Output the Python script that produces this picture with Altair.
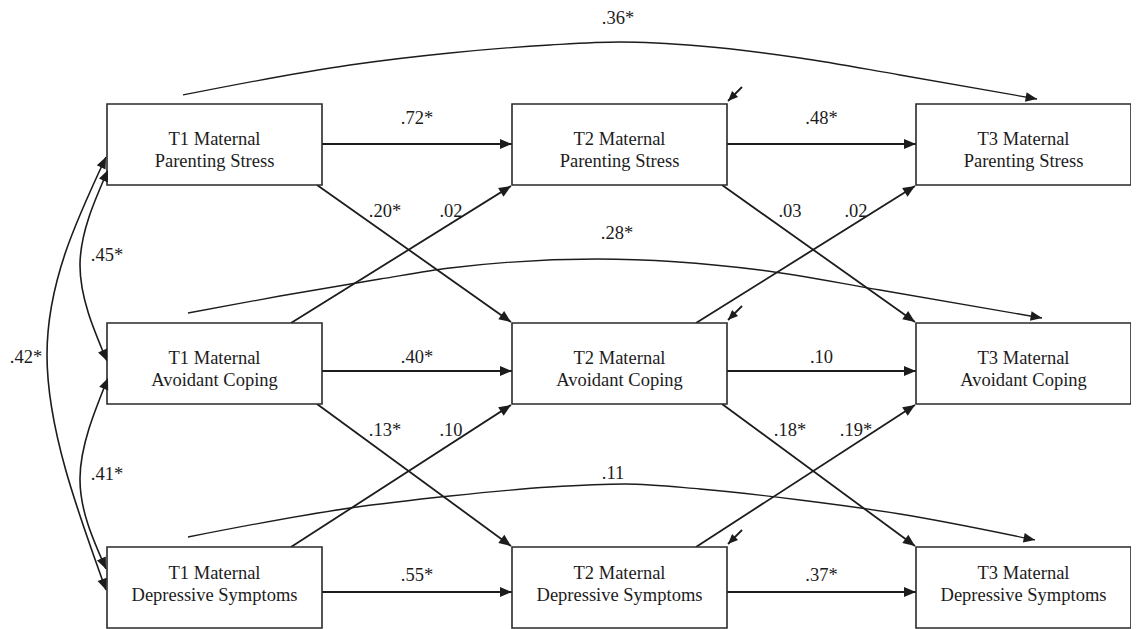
import math
import altair as alt
import pandas as pd

# ---------------- content ----------------
waves = ["T1", "T2", "T3"]
construct_line1 = ["Maternal", "Maternal", "Maternal"]
construct_line2 = ["Parenting Stress", "Avoidant Coping", "Depressive Symptoms"]

# stability paths: (wave, row, coefficient)  wave -> wave+1, same construct
stab_wave = [0, 1, 0, 1, 0, 1]
stab_row = [0, 0, 1, 1, 2, 2]
stab_coef = [".72*", ".48*", ".40*", ".10", ".55*", ".37*"]

# cross-lagged paths going down one row: (wave, from_row)
down_wave = [0, 1, 0, 1]
down_row = [0, 0, 1, 1]
down_coef = [".20*", ".03", ".13*", ".18*"]

# cross-lagged paths going up one row: (wave, from_row)
up_wave = [0, 1, 0, 1]
up_row = [1, 1, 2, 2]
up_coef = [".02", ".02", ".10", ".19*"]

# T1 -> T3 paths per construct
skip_row = [0, 1, 2]
skip_coef = [".36*", ".28*", ".11"]

# T1 covariances
cov_a = [0, 0, 1]
cov_b = [1, 2, 2]
cov_coef = [".45*", ".42*", ".41*"]

# ---------------- layout (page pixels) ----------------
W, H = 1123, 621
COL_LEFT = [107, 512, 916]
BOX_W = 215
ROW_TOP = [104, 323, 547]
BOX_H = 81
TEXT_Y1 = [138.5, 357.5, 573]
LINE_GAP = 22
ARROW_Y = [144, 371, 592]
STAB_LABEL_Y = [118, 357, 575]

# skip-arc traces
skip_x = [
    [183, 350, 450, 550, 620, 700, 800, 900, 1037],
    [188, 280, 380, 450, 597, 760, 880, 1042],
    [188, 350, 450, 550, 625, 700, 800, 900, 1035],
]
skip_y = [
    [95, 65, 53, 45, 42, 46, 58, 75, 99],
    [313, 296, 279, 268, 259, 270, 290, 318],
    [537, 508, 496, 487, 484, 489, 500, 514, 540],
]
skip_label_xy = [(618, 18), (617, 233), (613, 473)]

# covariance arcs: start, bulge, end
cov_pts = [
    [(108, 170), (80, 265), (107, 361)],
    [(106, 157), (47, 355), (106, 590)],
    [(108, 378), (80, 478), (106, 569)],
]
cov_label_xy = [(107, 255), (26, 357), (107, 474)]

FONT = "Liberation Serif"
FS = 18.5
INK = "#1c1c1c"
ARROW = "M0,0L-0.85,2L0.85,2Z"


def ang(dx, dy):
    return (math.degrees(math.atan2(dx, -dy)) + 360) % 360


boxes, texts, rules, heads, labels, arcs, covs = [], [], [], [], [], [], []

for c in range(3):
    for r in range(3):
        x0, y0 = COL_LEFT[c], ROW_TOP[r]
        boxes.append(dict(x=x0, x2=x0 + BOX_W, y=y0, y2=y0 + BOX_H))
        cx = x0 + BOX_W / 2
        texts.append(dict(x=cx, y=TEXT_Y1[r], t=f"{waves[c]} {construct_line1[r]}"))
        texts.append(dict(x=cx, y=TEXT_Y1[r] + LINE_GAP, t=construct_line2[r]))
        if c > 0:  # residual arrows
            xr = x0 + BOX_W
            sx, sy, ex, ey = xr + 15, y0 - 17, xr + 1, y0 - 3
            rules.append(dict(x=sx, y=sy, x2=ex, y2=ey))
            heads.append(dict(x=ex, y=ey, a=ang(ex - sx, ey - sy), s=100))


def arrow(sx, sy, ex, ey, size=144):
    rules.append(dict(x=sx, y=sy, x2=ex, y2=ey))
    heads.append(dict(x=ex, y=ey, a=ang(ex - sx, ey - sy), s=size))


for w, r, coef in zip(stab_wave, stab_row, stab_coef):
    sx = COL_LEFT[w] + BOX_W
    ex = COL_LEFT[w + 1]
    arrow(sx, ARROW_Y[r], ex, ARROW_Y[r])
    labels.append(dict(x=(sx + ex) / 2, y=STAB_LABEL_Y[r], t=coef))

for w, r, coef in zip(down_wave, down_row, down_coef):
    right = COL_LEFT[w] + BOX_W
    arrow(right - 5, ROW_TOP[r] + BOX_H, COL_LEFT[w + 1] - 1, ROW_TOP[r + 1] - 1)
    labels.append(dict(x=right + 63, y=ROW_TOP[r] + BOX_H + 26, t=coef))

for w, r, coef in zip(up_wave, up_row, up_coef):
    right = COL_LEFT[w] + BOX_W
    arrow(COL_LEFT[w] + 184, ROW_TOP[r], COL_LEFT[w + 1] - 1, ROW_TOP[r - 1] + BOX_H + 1)
    labels.append(dict(x=right + 129, y=ROW_TOP[r - 1] + BOX_H + 26, t=coef))

for k, (r, coef) in enumerate(zip(skip_row, skip_coef)):
    xs, ys = skip_x[k], skip_y[k]
    for i, (x, y) in enumerate(zip(xs, ys)):
        arcs.append(dict(x=x, y=y, id=k, i=i))
    heads.append(dict(x=xs[-1], y=ys[-1], a=ang(xs[-1] - xs[-2], ys[-1] - ys[-2]), s=130))
    lx, ly = skip_label_xy[k]
    labels.append(dict(x=lx, y=ly, t=coef))

for k, coef in enumerate(cov_coef):
    p0, p1, p2 = cov_pts[k]
    for i, (x, y) in enumerate(cov_pts[k]):
        covs.append(dict(x=x, y=y, id=k, i=i))
    # natural-spline end tangents
    m = (p0[0] - 2 * p1[0] + p2[0], p0[1] - 2 * p1[1] + p2[1])
    d_end = (p2[0] - p1[0] + 0.25 * m[0], p2[1] - p1[1] + 0.25 * m[1])
    d_start = (p1[0] - p0[0] - 0.25 * m[0], p1[1] - p0[1] - 0.25 * m[1])
    heads.append(dict(x=p2[0], y=p2[1], a=ang(*d_end), s=130))
    heads.append(dict(x=p0[0], y=p0[1], a=ang(-d_start[0], -d_start[1]), s=130))
    lx, ly = cov_label_xy[k]
    labels.append(dict(x=lx, y=ly, t=coef))

xs_ = alt.Scale(domain=[8, 8 + W], nice=False, zero=False)
ys_ = alt.Scale(domain=[8, 8 + H], nice=False, zero=False, reverse=True)
X = lambda f="x": alt.X(f"{f}:Q", scale=xs_, axis=None)
Y = lambda f="y": alt.Y(f"{f}:Q", scale=ys_, axis=None)

box_layer = alt.Chart(pd.DataFrame(boxes)).mark_rect(
    fill="white", stroke="#2a2a2a", strokeWidth=1.6
).encode(x=X(), x2="x2:Q", y=Y(), y2="y2:Q")

text_layer = alt.Chart(pd.DataFrame(texts)).mark_text(
    font=FONT, fontSize=FS, color=INK, baseline="middle", align="center"
).encode(x=X(), y=Y(), text="t:N")

rule_layer = alt.Chart(pd.DataFrame(rules)).mark_rule(
    color=INK, strokeWidth=1.8
).encode(x=X(), y=Y(), x2="x2:Q", y2="y2:Q")

arc_layer = alt.Chart(pd.DataFrame(arcs)).mark_line(
    color=INK, strokeWidth=1.3, interpolate="monotone"
).encode(x=X(), y=Y(), detail="id:N", order="i:Q")

cov_layer = alt.Chart(pd.DataFrame(covs)).mark_line(
    color=INK, strokeWidth=1.6, interpolate="natural"
).encode(x=X(), y=Y(), detail="id:N", order="i:Q")

head_layer = alt.Chart(pd.DataFrame(heads)).mark_point(
    shape=ARROW, filled=True, color=INK, opacity=1, strokeWidth=0
).encode(
    x=X(), y=Y(),
    angle=alt.Angle("a:Q", scale=None),
    size=alt.Size("s:Q", scale=None),
)

label_layer = alt.Chart(pd.DataFrame(labels)).mark_text(
    font=FONT, fontSize=FS, color=INK, baseline="middle", align="center"
).encode(x=X(), y=Y(), text="t:N")

chart = alt.layer(
    arc_layer, cov_layer, rule_layer, box_layer, text_layer, head_layer, label_layer
).properties(
    width=W, height=H, padding=0, autosize=alt.AutoSizeParams(type="none"),
    background="white",
).configure_view(stroke=None)

chart.save("out.html", embed_options={"renderer": "svg", "actions": False})
